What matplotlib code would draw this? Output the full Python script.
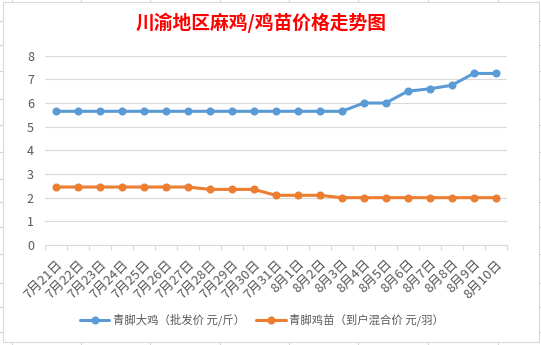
import matplotlib
matplotlib.use("Agg")
import matplotlib.pyplot as plt
from matplotlib.lines import Line2D
from matplotlib.patches import Rectangle

plt.rcParams['font.family'] = ['Noto Sans CJK SC', 'DejaVu Sans']

dates = ["7月21日", "7月22日", "7月23日", "7月24日", "7月25日", "7月26日", "7月27日",
         "7月28日", "7月29日", "7月30日", "7月31日", "8月1日", "8月2日", "8月3日",
         "8月4日", "8月5日", "8月6日", "8月7日", "8月8日", "8月9日", "8月10日"]
big_chicken = [5.65, 5.65, 5.65, 5.65, 5.65, 5.65, 5.65, 5.65, 5.65, 5.65, 5.65, 5.65,
               5.65, 5.65, 6.0, 6.0, 6.5, 6.6, 6.75, 7.25, 7.25]
chick = [2.45, 2.45, 2.45, 2.45, 2.45, 2.45, 2.45, 2.35, 2.35, 2.35, 2.1, 2.1, 2.1,
         2.0, 2.0, 2.0, 2.0, 2.0, 2.0, 2.0, 2.0]
series_names = ["青脚大鸡（批发价 元/斤）", "青脚鸡苗（到户混合价 元/羽）"]
title = "川渝地区麻鸡/鸡苗价格走势图"
yticks = [0, 1, 2, 3, 4, 5, 6, 7, 8]

W, H = 541, 345
fig = plt.figure(figsize=(W / 100, H / 100), dpi=100)
fig.patch.set_facecolor("white")

# Spreadsheet grid behind the chart
grid_c = "#D4D4D4"
for yy in [20.7, 45, 71, 99.3, 124.7, 152.3, 178.7, 202.3, 226.7, 254.3, 283.3, 307.3, 331.7]:
    fig.add_artist(Line2D([0, 1], [1 - yy / H] * 2, transform=fig.transFigure,
                          color=grid_c, lw=0.8, zorder=0))
for xx in [12, 81, 150, 220, 289, 358, 428, 498]:
    fig.add_artist(Line2D([xx / W] * 2, [0, 1], transform=fig.transFigure,
                          color=grid_c, lw=0.8, zorder=0))
# Chart area
fig.add_artist(Rectangle((2.5 / W, 1 - 342 / H), (539 - 2.5) / W, (342 - 1.5) / H,
                         transform=fig.transFigure, facecolor="white",
                         edgecolor="#D9D9D9", lw=0.8, zorder=1))

ax = fig.add_axes([45 / W, 1 - 245 / H, 461.7 / W, (245 - 55.7) / H], zorder=2)
ax.set_facecolor("none")
x = list(range(len(dates)))
blue = "#5B9BD5"
orange = "#ED7D31"
ax.plot(x, big_chicken, color=blue, lw=2.2, marker="o", ms=4.8, label=series_names[0],
        solid_capstyle="round", zorder=3)
ax.plot(x, chick, color=orange, lw=2.2, marker="o", ms=4.8, label=series_names[1],
        solid_capstyle="round", zorder=3)

ax.set_xlim(-0.5, len(dates) - 0.5)
ax.set_ylim(0, 8)
ax.set_yticks(yticks)
ax.yaxis.grid(True, color="#D9D9D9", lw=0.8)
ax.set_axisbelow(True)
for s in ["top", "right", "left"]:
    ax.spines[s].set_visible(False)
ax.spines["bottom"].set_color("#D9D9D9")
ax.spines["bottom"].set_linewidth(0.8)
ax.tick_params(axis="y", length=0, pad=8, labelsize=9, labelcolor="#595959")

ax.set_xticks([i - 0.5 for i in range(len(dates) + 1)], minor=True)
ax.set_xticks(x)
ax.set_xticklabels(dates, rotation=45, ha="right", va="top", rotation_mode="anchor",
                   fontsize=9.5, color="#595959")
ax.tick_params(axis="x", which="major", length=0, pad=9)
ax.tick_params(axis="x", which="minor", length=3.6, color="#D9D9D9", width=0.8)

fig.text(261.5 / W, 1 - 23 / H, title, ha="center", va="center", fontsize=13.5,
         color="#FF0000", fontweight="bold")

leg = fig.legend(loc="center", bbox_to_anchor=(262 / W, 1 - 320 / H), ncol=2,
                 frameon=False, fontsize=8.2, handlelength=2.6, columnspacing=1.0,
                 handletextpad=0.3)
for t in leg.get_texts():
    t.set_color("#595959")

fig.savefig("out.png", dpi=100)
